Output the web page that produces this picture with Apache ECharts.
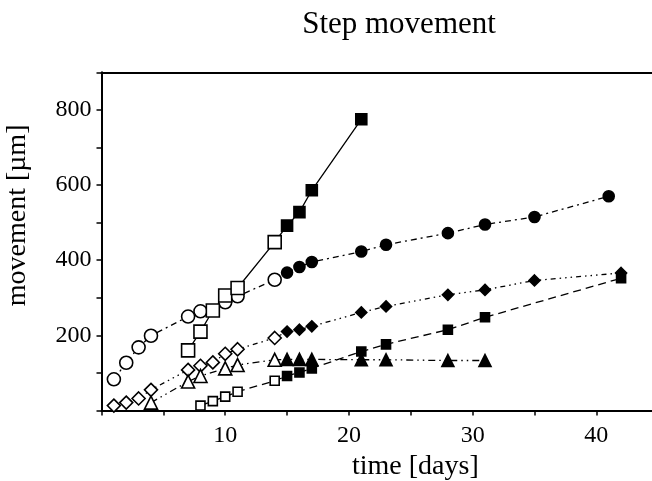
<!DOCTYPE html>
<html>
  <head>
    <meta charset="utf-8" />
    <title>Step movement</title>
    <script src="https://cdn.jsdelivr.net/npm/echarts@6/dist/echarts.min.js"></script>
    <style type="text/css">
      html, body { margin: 0; padding: 0; background: #fff; }
    </style>
  </head>
  <body>
    <div id="main" style="width: 652px; height: 481px"></div>
    <script type="text/javascript">
      // measured series: days, movement (um), number of leading open markers
      var circleDays = [1, 2, 3, 4, 7, 8, 10, 11, 14, 15, 16, 17, 21, 23, 28, 31, 35, 41];
      var circleVals = [83, 127, 168, 199, 250, 264, 288, 304, 348, 367, 382, 395, 423, 441, 472, 495, 515, 570];
      var circleOpen = 9;

      var squareDays = [7, 8, 9, 10, 11, 14, 15, 16, 17, 21];
      var squareVals = [160, 210, 266, 306, 326, 448, 492, 528, 586, 775];
      var squareOpen = 6;

      var diamondDays = [1, 2, 3, 4, 7, 8, 9, 10, 11, 14, 15, 16, 17, 21, 23, 28, 31, 35, 42];
      var diamondVals = [13, 21, 32, 55, 108, 119, 128, 151, 163, 193, 210, 215, 224, 261, 277, 308, 321, 346, 366];
      var diamondOpen = 10;

      var triDays = [4, 7, 8, 10, 11, 14, 15, 16, 17, 21, 23, 28, 31];
      var triVals = [21, 77, 92, 112, 121, 135, 136, 136, 136, 135, 135, 133, 133];
      var triOpen = 6;

      var smallSqDays = [8, 9, 10, 11, 14, 15, 16, 17, 21, 23, 28, 31, 42];
      var smallSqVals = [13, 25, 37, 50, 79, 92, 101, 112, 157, 176, 215, 248, 352];
      var smallSqOpen = 5;

      var xLabels = [10, 20, 30, 40];
      var yLabels = [200, 400, 600, 800];

      var serif = "'Liberation Serif', 'DejaVu Serif', serif";

      function points(days, vals, nOpen, openSize, fillSize) {
        return days.map(function (d, i) {
          var open = i < nOpen;
          return {
            value: [d, vals[i]],
            symbolSize: open ? openSize : fillSize,
            itemStyle: { color: open ? "#fff" : "#000" }
          };
        });
      }

      function makeSeries(symbol, data, dash) {
        return {
          type: "line",
          symbol: symbol,
          showAllSymbol: true,
          data: data,
          lineStyle: { color: "#000", width: 1.3, type: dash },
          itemStyle: { borderColor: "#000", borderWidth: 1.6 },
          emphasis: { disabled: true }
        };
      }

      var myChart = echarts.init(document.getElementById("main"));

      var option = {
        animation: false,
        title: {
          text: "Step movement",
          left: 399,
          top: 9,
          padding: 0,
          textAlign: "center",
          textStyle: { fontFamily: serif, fontSize: 31, fontWeight: "normal", color: "#000" }
        },
        grid: {
          left: 101.5,
          top: 72.3,
          width: 556.7,
          height: 338.2,
          containLabel: false,
          outerBoundsMode: "none"
        },
        xAxis: [
          {
            type: "value",
            min: 0,
            max: 45,
            interval: 5,
            name: "time [days]",
            nameLocation: "middle",
            nameGap: 38,
            nameTextStyle: { fontFamily: serif, fontSize: 28, color: "#000", padding: [0, 0, 0, 71] },
            splitLine: { show: false },
            axisLine: { lineStyle: { color: "#000", width: 2 } },
            axisTick: { length: 5, lineStyle: { color: "#000", width: 1.5 } },
            axisLabel: {
              margin: 13,
              fontFamily: serif,
              fontSize: 24,
              color: "#000",
              formatter: function (v) { return xLabels.indexOf(v) >= 0 ? String(v) : ""; }
            }
          },
          {
            type: "value",
            position: "top",
            min: 0,
            max: 45,
            axisLine: { show: true, lineStyle: { color: "#000", width: 2 } },
            axisTick: { show: false },
            axisLabel: { show: false },
            splitLine: { show: false }
          }
        ],
        yAxis: {
          type: "value",
          min: 0,
          max: 900,
          interval: 100,
          name: "movement [µm]",
          nameLocation: "middle",
          nameRotate: 90,
          nameGap: 70,
          nameTextStyle: { fontFamily: serif, fontSize: 28, color: "#000", padding: [0, 0, 0, 52] },
          splitLine: { show: false },
          axisLine: { show: true, lineStyle: { color: "#000", width: 2 } },
          axisTick: { show: true, length: 5, lineStyle: { color: "#000", width: 1.5 } },
          axisLabel: {
            margin: 10,
            fontFamily: serif,
            fontSize: 24,
            color: "#000",
            formatter: function (v) { return yLabels.indexOf(v) >= 0 ? String(v) : ""; }
          }
        },
        series: [
          makeSeries("circle", points(circleDays, circleVals, circleOpen, 13, 11), [6, 4, 2, 4]),
          makeSeries("rect", points(squareDays, squareVals, squareOpen, 13, 11), "solid"),
          makeSeries("diamond", points(diamondDays, diamondVals, diamondOpen, 13, 11), [5, 4, 1.5, 4, 1.5, 4, 1.5, 4]),
          makeSeries("triangle", points(triDays, triVals, triOpen, 13, 12), [7, 4, 1.5, 4, 1.5, 4]),
          makeSeries("rect", points(smallSqDays, smallSqVals, smallSqOpen, 9, 9), [8, 5])
        ]
      };

      myChart.setOption(option);
    </script>
  </body>
</html>
